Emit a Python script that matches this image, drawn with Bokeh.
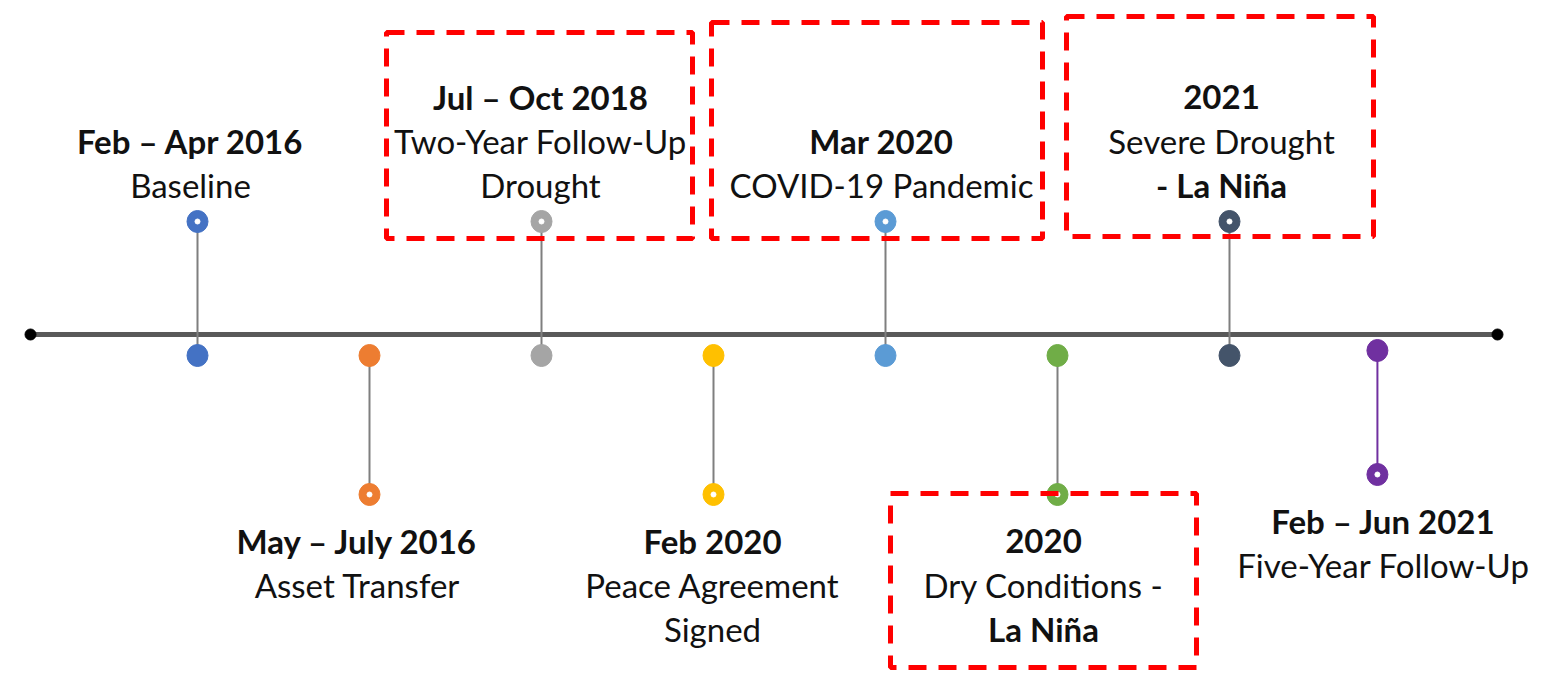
from bokeh.plotting import figure
from bokeh.models import Range1d
from bokeh.core.properties import value
from bokeh.embed import file_html
from bokeh.resources import INLINE

# ---------------- data ----------------
event_pos = [0, 1, 2, 3, 4, 5, 6, 6.86]          # position along the timeline (event slots)
event_side = ["up", "down", "up", "down", "up", "down", "up", "down"]
event_colors = ["#4472C4", "#ED7D31", "#A5A5A5", "#FFC000",
                "#5B9BD5", "#70AD47", "#44546A", "#7030A0"]
event_dates = ["Feb \u2013 Apr 2016", "May \u2013 July 2016", "Jul \u2013 Oct 2018", "Feb 2020",
               "Mar 2020", "2020", "2021", "Feb \u2013 Jun 2021"]
event_desc = [["Baseline"], ["Asset Transfer"], ["Two-Year Follow-Up", "Drought"],
              ["Peace Agreement", "Signed"], ["COVID-19 Pandemic"], ["Dry Conditions -"],
              ["Severe Drought"], ["Five-Year Follow-Up"]]
event_bold_tail = [None, None, None, None, None, "La Ni\u00f1a", "- La Ni\u00f1a", None]
highlighted = [2, 4, 5, 6]   # events framed by red dashed boxes

# ---------------- layout ----------------
SLOT = 172.0          # px per event slot
X0 = 197.0            # page-x of first event
FONT = "Lato"
FS = "33px"
LINE = 44             # line spacing in px
UP_DOT, MID_DOT, DOWN_DOT = 113, -21, -160
label_dx = [-7, -12, -1, -1, -4, -14, -8, 6]   # px horizontal nudges of labels

p = figure(width=1533, height=670, output_backend="svg", toolbar_location=None,
           x_range=Range1d((0 - X0) / SLOT, (1533 - X0) / SLOT),
           y_range=Range1d(334 - 670, 334 - 0), min_border=0)
p.axis.visible = False
p.grid.visible = False
p.outline_line_color = None
p.background_fill_color = "white"

# main axis line
x_left, x_right = (30 - X0) / SLOT, (1497 - X0) / SLOT
p.line([x_left, x_right], [0, 0], line_color="#595959", line_width=5)
p.scatter([x_left, x_right], [0, 0], size=11, color="black")

# stems and dots
for i, (x, side, c) in enumerate(zip(event_pos, event_side, event_colors)):
    last = i == len(event_pos) - 1
    if side == "up":
        y_near, y_far = MID_DOT, UP_DOT
    else:
        y_near, y_far = (MID_DOT + 5, DOWN_DOT + 20) if last else (MID_DOT, DOWN_DOT)
    stem_col = c if last else "#7F7F7F"
    p.line([x, x], [y_near, y_far], line_color=stem_col, line_width=2)
    p.ellipse([x], [y_near], width=21 / SLOT, height=22, color=c)
    p.ellipse([x], [y_far], width=21 / SLOT, height=22, color=c)
    p.scatter([x], [y_far], size=5, color="white")

# labels
bold_x, bold_y, bold_t = [], [], []
norm_x, norm_y, norm_t = [], [], []
for i, (x, side) in enumerate(zip(event_pos, event_side)):
    lines = [(event_dates[i], True)] + [(d, False) for d in event_desc[i]]
    if event_bold_tail[i]:
        lines.append((event_bold_tail[i], True))
    n = len(lines)
    last = i == len(event_pos) - 1
    xl = x + label_dx[i] / SLOT
    for k, (t, b) in enumerate(lines):
        if side == "up":
            y = UP_DOT + 37 + (n - 1 - k) * LINE
        else:
            y = (DOWN_DOT + 20 if last else DOWN_DOT) - 46 - k * LINE
        if b:
            bold_x.append(xl); bold_y.append(y); bold_t.append(t)
        else:
            norm_x.append(xl); norm_y.append(y); norm_t.append(t)

p.text(bold_x, bold_y, text=bold_t, text_font=value(FONT), text_font_size=FS,
       text_font_style="bold", text_align="center", text_baseline="middle", text_color="#111111")
p.text(norm_x, norm_y, text=norm_t, text_font=value(FONT), text_font_size=FS,
       text_align="center", text_baseline="middle", text_color="#111111")

# red dashed highlight boxes (extents in px relative to the event / main line)
box_extent = {2: (-155, 151, 302, 96), 4: (-174, 157, 312, 96),
              5: (-167, 139, -159, -333), 6: (-163, 144, 318, 98)}
for i in highlighted:
    l, r, t, b = box_extent[i]
    x = event_pos[i]
    p.quad(left=[x + l / SLOT], right=[x + r / SLOT], top=[t], bottom=[b],
           fill_alpha=0, line_color="#FF0000", line_width=5, line_dash="18 12")

open("out.html", "w").write(file_html(p, INLINE))
